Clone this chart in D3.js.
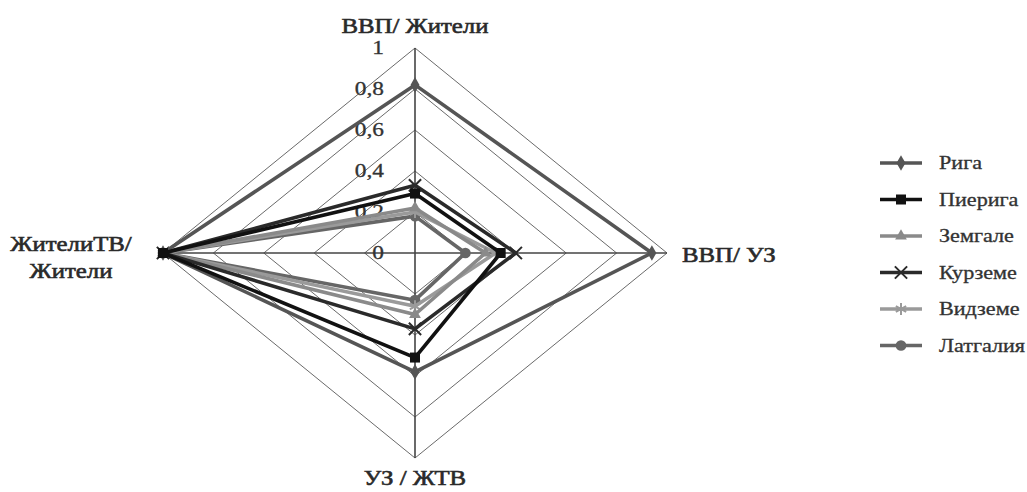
<!DOCTYPE html>
<html><head><meta charset="utf-8">
<script src="https://cdn.jsdelivr.net/npm/d3@7"></script>
<style>body{margin:0;background:#fff}svg{display:block}</style>
</head><body>
<svg id="c" width="1027" height="492"></svg>
<script>
const axes = ["ВВП/ Жители", "ВВП/ УЗ", "УЗ / ЖТВ", "ЖителиТВ/ Жители"];
const seriesNames = ["Рига", "Пиерига", "Земгале", "Курземе", "Видземе", "Латгалия"];
const riga     = [0.82, 0.94, 0.58, 1.0];
const pieriga  = [0.29, 0.34, 0.51, 1.0];
const zemgale  = [0.22, 0.28, 0.30, 1.0];
const kurzeme  = [0.33, 0.40, 0.37, 1.0];
const vidzeme  = [0.20, 0.32, 0.26, 1.0];
const latgale  = [0.18, 0.20, 0.23, 1.0];
const tickValues = [0, 0.2, 0.4, 0.6, 0.8, 1];
const tickLabels = ["0", "0,2", "0,4", "0,6", "0,8", "1"];

const series = [riga, pieriga, zemgale, kurzeme, vidzeme, latgale];
const colors = ["#555", "#111", "#8a8a8a", "#2a2a2a", "#9a9a9a", "#666"];
const markers = ["diamond", "square", "triangle", "x", "star", "circle"];

const svg = d3.select("#c");
const cx = 415, cy = 253;
const rx = d3.scaleLinear().domain([0, 1]).range([0, 252]);
const ry = d3.scaleLinear().domain([0, 1]).range([0, 205]);
const ang = i => i * Math.PI / 2;
const pt = (v, i) => [cx + Math.sin(ang(i)) * rx(v), cy - Math.cos(ang(i)) * ry(v)];
const font = "'Liberation Serif', 'Times New Roman', serif";

function txt(x, y, s, size, anchor, fill, sw, sx) {
  return svg.append("text")
    .attr("transform", `translate(${x},${y}) scale(${sx},1)`)
    .attr("text-anchor", anchor).attr("font-family", font).attr("font-size", size)
    .attr("fill", fill).attr("stroke", fill).attr("stroke-width", sw).text(s);
}

// grid rings
const g = svg.append("g");
tickValues.forEach(t => {
  if (t === 0) return;
  g.append("path")
    .attr("d", d3.line()(axes.map((a, i) => pt(t, i))) + "Z")
    .attr("fill", "none").attr("stroke", "#6a6a6a").attr("stroke-width", 1);
});
// axis spokes
axes.forEach((a, i) => {
  const [x, y] = pt(1, i);
  g.append("line").attr("x1", cx).attr("y1", cy).attr("x2", x).attr("y2", y)
    .attr("stroke", "#444").attr("stroke-width", 1.6);
});
// tick labels
tickValues.forEach((t, k) => {
  txt(cx - 31, cy - ry(t) + 6, tickLabels[k], 19, "end", "#333", 0.3, 1.23);
});

function markerPath(type) {
  switch (type) {
    case "diamond": return d3.symbol(d3.symbolDiamond, 70)();
    case "square": return d3.symbol(d3.symbolSquare, 100)();
    case "triangle": return d3.symbol(d3.symbolTriangle, 60)();
    case "x": return d3.symbol(d3.symbolX, 100)();
    case "star": return d3.symbol(d3.symbolAsterisk, 100)();
    case "circle": return d3.symbol(d3.symbolCircle, 90)();
  }
}
const strokeMarker = t => t === "x" || t === "star";

const order = [5, 4, 2, 3, 0, 1];
order.forEach(s => {
  const pts = series[s].map((v, i) => pt(v, i));
  svg.append("path").attr("d", d3.line()(pts) + "Z")
    .attr("fill", "none").attr("stroke", colors[s]).attr("stroke-width", 3.6)
    .attr("stroke-linejoin", "round");
  pts.forEach(p => {
    const m = svg.append("path").attr("d", markerPath(markers[s]))
      .attr("transform", `translate(${p[0]},${p[1]})`);
    if (strokeMarker(markers[s])) m.attr("fill", "none").attr("stroke", colors[s]).attr("stroke-width", 2);
    else m.attr("fill", colors[s]);
  });
});

// axis labels
txt(cx, 33, "ВВП/ Жители", 21, "middle", "#2a2a2a", 0.6, 1.18);
txt(682, 262, "ВВП/ УЗ", 21, "start", "#2a2a2a", 0.6, 1.18);
txt(cx, 485, "УЗ / ЖТВ", 21, "middle", "#2a2a2a", 0.6, 1.18);
txt(71, 251, "ЖителиТВ/", 21, "middle", "#2a2a2a", 0.6, 1.18);
txt(71, 278, "Жители", 21, "middle", "#2a2a2a", 0.6, 1.18);

// legend
seriesNames.forEach((n, s) => {
  const y = 163 + s * 36.5;
  svg.append("line").attr("x1", 880).attr("x2", 922).attr("y1", y).attr("y2", y)
    .attr("stroke", colors[s]).attr("stroke-width", 3.6);
  const m = svg.append("path").attr("d", markerPath(markers[s]))
    .attr("transform", `translate(901,${y})`);
  if (strokeMarker(markers[s])) m.attr("fill", "none").attr("stroke", colors[s]).attr("stroke-width", 2);
  else m.attr("fill", colors[s]);
  txt(939, y + 6, n, 18, "start", "#333", 0.3, 1.23);
});
</script>
</body></html>
